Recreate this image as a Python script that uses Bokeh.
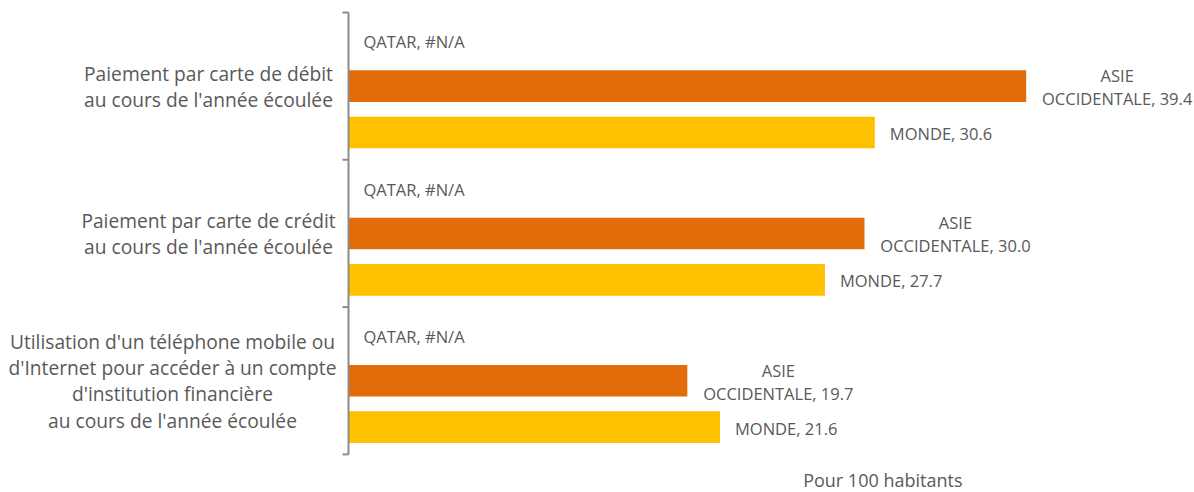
from bokeh.plotting import figure
from bokeh.models import ColumnDataSource, Range1d
from bokeh.core.properties import value
from bokeh.embed import file_html
from bokeh.resources import INLINE

# ---------------- data ----------------
categories = [
    "Paiement par carte de débit\nau cours de l'année écoulée",
    "Paiement par carte de crédit\nau cours de l'année écoulée",
    "Utilisation d'un téléphone mobile ou\nd'Internet pour accéder à un compte\nd'institution financière\nau cours de l'année écoulée",
]
series_names = ["QATAR", "ASIE\nOCCIDENTALE", "MONDE"]
qatar = [None, None, None]
asie_occidentale = [39.4, 30.0, 19.7]
monde = [30.6, 27.7, 21.6]
x_title = "Pour 100  habitants"

# ---------------- style / layout ----------------
W, H = 1194, 492
FONT = "Open Sans"
GREY = "#595959"
AXIS_GREY = "#8c8c8c"
COLORS = [None, "#E36C0A", "#FFC000"]

X_START, X_END = -20.233, 49.186
Y_START, Y_END = -0.2587, 3.0815
PX_X = W / (X_END - X_START)
PX_Y = H / (Y_END - Y_START)

SLOT_OFF = [0.315, 0.0, -0.315]   # series offset inside a group (group units)
BAR_H = 0.2145
CAT_LABEL_DX = [-140, -140, -176]  # screen px offset of category label centres

n = len(categories)
all_series = [qatar, asie_occidentale, monde]

p = figure(width=W, height=H, output_backend="svg", toolbar_location=None,
           x_range=Range1d(X_START, X_END), y_range=Range1d(Y_START, Y_END),
           x_axis_type=None, y_axis_type=None, min_border=0)
p.grid.visible = False
p.outline_line_color = None
p.background_fill_color = "white"
p.border_fill_color = "white"

# bars
for s, vals in enumerate(all_series):
    ys, rs = [], []
    for g, v in enumerate(vals):
        if v is None:
            continue
        ys.append(n - g - 0.5 + SLOT_OFF[s])
        rs.append(v)
    if ys:
        p.hbar(y=ys, left=0, right=rs, height=BAR_H, fill_color=COLORS[s],
               line_color=None)

# data labels
font = value(FONT)
for s, vals in enumerate(all_series):
    xs, ys, txt = [], [], []
    for g, v in enumerate(vals):
        xs.append(0 if v is None else v)
        ys.append(n - g - 0.5 + SLOT_OFF[s])
        txt.append(f"{series_names[s]}, " + ("#N/A" if v is None else f"{v:.1f}"))
    src = ColumnDataSource(dict(x=xs, y=ys, t=txt))
    if s == 1:
        p.text(x="x", y="y", text="t", source=src, x_offset=91, y_offset=1,
               text_align="center", text_baseline="middle", text_font=font,
               text_font_size="16.5px", text_color=GREY, text_line_height=1.0)
    else:
        p.text(x="x", y="y", text="t", source=src, x_offset=15,
               y_offset=(1 if s == 2 else 2),
               text_align="left", text_baseline="middle", text_font=font,
               text_font_size="16.5px", text_color=GREY)

# category axis (line + boundary ticks)
bounds = list(range(n + 1))
p.segment(x0=[0], y0=[bounds[0]], x1=[0], y1=[bounds[-1]],
          line_color=AXIS_GREY, line_width=2)
tick_len = 6 / PX_X
p.segment(x0=[-tick_len] * len(bounds), y0=bounds, x1=[0] * len(bounds), y1=bounds,
          line_color=AXIS_GREY, line_width=2)

# category labels
for g, c in enumerate(categories):
    p.text(x=[0], y=[n - g - 0.5], text=[c], x_offset=CAT_LABEL_DX[g],
           text_align="center", text_baseline="middle", text_font=font,
           text_font_size="19.2px", text_color=GREY, text_line_height=0.97)

# x title
p.text(x=[31.2], y=[Y_START + 1 / PX_Y], text=[x_title], text_align="center",
       text_baseline="bottom", text_font=font, text_font_size="18px",
       text_color=GREY)

open("out.html", "w").write(file_html(p, INLINE))
